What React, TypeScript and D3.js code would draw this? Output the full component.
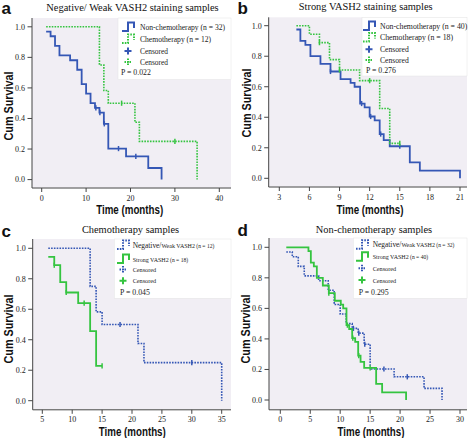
import React from "react";
import * as d3 from "d3";

// ---------- data ----------
// Negative/Weak VASH2, non-chemotherapy (n = 32)
const negNonTimes = [1, 2, 3, 4, 6.4, 8, 9, 10, 11, 12, 13, 14, 15, 19, 24, 27];
const negNonSurv = [0.969, 0.938, 0.875, 0.813, 0.781, 0.719, 0.625, 0.563, 0.5, 0.469, 0.438, 0.365, 0.203, 0.152, 0.076, 0];
const negNonCensor = [12.2, 13.1, 14.1, 17.3, 21.2];
// Negative/Weak VASH2, chemotherapy (n = 12)
const negChemoTimes = [13, 14, 15, 21, 22, 35];
const negChemoSurv = [0.75, 0.583, 0.5, 0.375, 0.25, 0];
const negChemoCensor = [18, 30];
// Strong VASH2, non-chemotherapy (n = 40)
const strNonTimes = [4.7, 5.1, 5.6, 6.1, 7.1, 8.1, 9.1, 10.1, 10.5, 11.05, 11.5, 12, 12.5, 13, 13.4, 14, 16, 17, 21];
const strNonSurv = [0.975, 0.9, 0.875, 0.8, 0.75, 0.7, 0.65, 0.625, 0.6, 0.49, 0.465, 0.405, 0.38, 0.29, 0.25, 0.21, 0.105, 0.05, 0];
const strNonCensor = [8.1, 11.2, 12.1, 13.1, 15];
// Strong VASH2, chemotherapy (n = 18)
const strChemoTimes = [6, 7, 8, 9, 11, 13, 14];
const strChemoSurv = [0.944, 0.889, 0.778, 0.71, 0.64, 0.457, 0.229];
const strChemoCensor = [7, 9, 12, 15];

const yTicks = [0, 0.2, 0.4, 0.6, 0.8, 1.0];
const xTicksA = [0, 10, 20, 30, 40];
const xTicksB = [3, 6, 9, 12, 15, 18, 21];
const xTicksC = [5, 10, 15, 20, 25, 30, 35];
const xTicksD = [0, 5, 10, 15, 20, 25, 30];

const titles = [
  "Negative/ Weak VASH2 staining samples",
  "Strong VASH2 staining samples",
  "Chemotherapy samples",
  "Non-chemotherapy samples",
];
const pValues = ["P = 0.022", "P = 0.276", "P = 0.045", "P = 0.295"];

// ---------- styles ----------
const BLUE = "#3557b5";
const GREEN = "#35c440";
const BG = "#f1eef4";
const SERIF = "'Liberation Serif', 'Times New Roman', serif";
const SANS = "'Liberation Sans', Arial, sans-serif";
const DOT = "1.6,1.2";

type Series = {
  times: number[];
  surv: number[];
  censor: number[];
  color: string;
  dotted: boolean;
};

function survAt(s: Series, t: number) {
  let v = 1;
  for (let i = 0; i < s.times.length; i++) if (t >= s.times[i] - 1e-9) v = s.surv[i];
  return v;
}

function kmPoints(s: Series, start: number): [number, number][] {
  const pts: [number, number][] = [];
  if (start < s.times[0]) pts.push([start, 1]);
  s.times.forEach((t, i) => pts.push([t, s.surv[i]]));
  const lastC = s.censor.length ? Math.max(...s.censor) : -Infinity;
  const lastT = s.times[s.times.length - 1];
  if (lastC > lastT) pts.push([lastC, s.surv[s.surv.length - 1]]);
  return pts;
}

type LegendRow = { kind: "step" | "cross"; color: string; dotted: boolean; parts: { text: string; size: number }[] };

type PanelCfg = {
  ox: number;
  oy: number;
  letter: string;
  title: string;
  titleX: number;
  titleY: number;
  letterY: number;
  xDomain: [number, number];
  xRange: [number, number];
  yRange: [number, number];
  xTicks: number[];
  bg: { x0: number; x1: number; y0: number; y1: number };
  start: number;
  series: Series[];
  legend: { x0: number; x1: number; y0: number; y1: number; iconX: number; textX: number; rows: number[]; pX: number };
  legendRows: LegendRow[];
  p: string;
  yLab: { x: number; y: number };
  xLab: { x: number; y: number };
  xTickY: number;
};

const panels: PanelCfg[] = [
  {
    ox: 0, oy: 0, letter: "a", title: titles[0], titleX: 132.5, titleY: 10.5, letterY: 14,
    xDomain: [0, 40], xRange: [41.7, 219.3], yRange: [179.6, 26.8], xTicks: xTicksA,
    bg: { x0: 32, x1: 231, y0: 18, y1: 187.5 }, start: 1,
    series: [
      { times: negNonTimes, surv: negNonSurv, censor: negNonCensor, color: BLUE, dotted: false },
      { times: negChemoTimes, surv: negChemoSurv, censor: negChemoCensor, color: GREEN, dotted: true },
    ],
    legend: { x0: 118, x1: 231, y0: 18, y1: 79.5, iconX: 122, textX: 140, rows: [27, 39, 51, 62, 72], pX: 121 },
    legendRows: [
      { kind: "step", color: BLUE, dotted: false, parts: [{ text: "Non-chemotherapy (n = 32)", size: 7.6 }] },
      { kind: "step", color: GREEN, dotted: true, parts: [{ text: "Chemotherapy  (n = 12)", size: 7.6 }] },
      { kind: "cross", color: BLUE, dotted: false, parts: [{ text: "Censored", size: 7.4 }] },
      { kind: "cross", color: GREEN, dotted: true, parts: [{ text: "Censored", size: 7.4 }] },
    ],
    p: pValues[0], yLab: { x: 13, y: 106 }, xLab: { x: 129.7, y: 214 }, xTickY: 201,
  },
  {
    ox: 236, oy: 0, letter: "b", title: titles[1], titleX: 129.7, titleY: 9.5, letterY: 14,
    xDomain: [3, 21], xRange: [43.3, 224], yRange: [178.3, 25.7], xTicks: xTicksB,
    bg: { x0: 32.7, x1: 231, y0: 17.3, y1: 186.5 }, start: 4.7,
    series: [
      { times: strNonTimes, surv: strNonSurv, censor: strNonCensor, color: BLUE, dotted: false },
      { times: strChemoTimes, surv: strChemoSurv, censor: strChemoCensor, color: GREEN, dotted: true },
    ],
    legend: { x0: 126, x1: 231, y0: 17.3, y1: 76, iconX: 127, textX: 144, rows: [26, 37.5, 49.3, 60, 70.5], pX: 130 },
    legendRows: [
      { kind: "step", color: BLUE, dotted: false, parts: [{ text: "Non-chemotherapy (n = 40)", size: 7.8 }] },
      { kind: "step", color: GREEN, dotted: true, parts: [{ text: "Chemotherapy (n = 18)", size: 7.8 }] },
      { kind: "cross", color: BLUE, dotted: false, parts: [{ text: "Censored", size: 7.6 }] },
      { kind: "cross", color: GREEN, dotted: true, parts: [{ text: "Censored", size: 7.6 }] },
    ],
    p: pValues[1], yLab: { x: 15, y: 103 }, xLab: { x: 134, y: 213.5 }, xTickY: 199.5,
  },
  {
    ox: 0, oy: 219, letter: "c", title: titles[2], titleX: 130.5, titleY: 13.5, letterY: 18.3,
    xDomain: [5, 35], xRange: [42.3, 221.7], yRange: [181.7, 29.3], xTicks: xTicksC,
    bg: { x0: 32.7, x1: 231, y0: 20, y1: 190.3 }, start: 6,
    series: [
      { times: negChemoTimes, surv: negChemoSurv, censor: negChemoCensor, color: BLUE, dotted: true },
      { times: strChemoTimes, surv: strChemoSurv, censor: strChemoCensor, color: GREEN, dotted: false },
    ],
    legend: { x0: 114.3, x1: 231, y0: 20, y1: 79.3, iconX: 117, textX: 132.7, rows: [26, 40, 50.5, 61.7, 72.7], pX: 120 },
    legendRows: [
      { kind: "step", color: BLUE, dotted: true, parts: [{ text: "Negative/", size: 7.4 }, { text: "Weak VASH2", size: 6 }, { text: " (n = 12)", size: 5.6 }] },
      { kind: "step", color: GREEN, dotted: false, parts: [{ text: "Strong VASH2", size: 6 }, { text: " (n = 18)", size: 5.6 }] },
      { kind: "cross", color: BLUE, dotted: true, parts: [{ text: "Censored", size: 6.2 }] },
      { kind: "cross", color: GREEN, dotted: false, parts: [{ text: "Censored", size: 6.2 }] },
    ],
    p: pValues[2], yLab: { x: 13.3, y: 110 }, xLab: { x: 132.3, y: 217 }, xTickY: 203,
  },
  {
    ox: 236, oy: 219, letter: "d", title: titles[3], titleX: 138, titleY: 13.5, letterY: 17.3,
    xDomain: [0, 30], xRange: [44.3, 224], yRange: [181, 28.3], xTicks: xTicksD,
    bg: { x0: 33, x1: 231, y0: 19, y1: 190.3 }, start: 1,
    series: [
      { times: negNonTimes, surv: negNonSurv, censor: negNonCensor, color: BLUE, dotted: true },
      { times: strNonTimes, surv: strNonSurv, censor: strNonCensor, color: GREEN, dotted: false },
    ],
    legend: { x0: 117.3, x1: 231, y0: 19, y1: 79.3, iconX: 120, textX: 136.7, rows: [25.7, 37.7, 49.3, 61, 72.7], pX: 122.7 },
    legendRows: [
      { kind: "step", color: BLUE, dotted: true, parts: [{ text: "Negative/", size: 7.4 }, { text: "Weak VASH2", size: 6 }, { text: "  (n = 32)", size: 5.6 }] },
      { kind: "step", color: GREEN, dotted: false, parts: [{ text: "Strong VASH2", size: 6 }, { text: " (n = 40)", size: 5.6 }] },
      { kind: "cross", color: BLUE, dotted: true, parts: [{ text: "Censored", size: 6.2 }] },
      { kind: "cross", color: GREEN, dotted: false, parts: [{ text: "Censored", size: 6.2 }] },
    ],
    p: pValues[3], yLab: { x: 14, y: 110 }, xLab: { x: 135, y: 217 }, xTickY: 203,
  },
];

function Panel({ cfg }: { cfg: PanelCfg }) {
  const x = d3.scaleLinear().domain(cfg.xDomain).range(cfg.xRange);
  const y = d3.scaleLinear().domain([0, 1]).range(cfg.yRange);
  const line = d3
    .line<[number, number]>()
    .x((d) => x(d[0]))
    .y((d) => y(d[1]))
    .curve(d3.curveStepAfter);
  const { bg, legend } = cfg;
  const axisY = bg.y1 + 0.5;
  return (
    <g transform={`translate(${cfg.ox},${cfg.oy})`}>
      <rect x={bg.x0} y={bg.y0} width={bg.x1 - bg.x0} height={bg.y1 - bg.y0} fill={BG} />
      {/* axes */}
      <line x1={bg.x0} x2={bg.x0} y1={bg.y0} y2={axisY} stroke="#444" strokeWidth={1} />
      <line x1={bg.x0} x2={bg.x1} y1={axisY} y2={axisY} stroke="#444" strokeWidth={1} />
      {yTicks.map((t) => (
        <g key={"y" + t}>
          <line x1={bg.x0 - 4.5} x2={bg.x0} y1={y(t)} y2={y(t)} stroke="#444" strokeWidth={1} />
          <text x={bg.x0 - 7} y={y(t) + 2.8} textAnchor="end" fontFamily={SERIF} fontSize={8} fill="#222">
            {d3.format(".1f")(t)}
          </text>
        </g>
      ))}
      {cfg.xTicks.map((t) => (
        <g key={"x" + t}>
          <line x1={x(t)} x2={x(t)} y1={axisY} y2={axisY + 4} stroke="#444" strokeWidth={1} />
          <text x={x(t)} y={cfg.xTickY} textAnchor="middle" fontFamily={SERIF} fontSize={8} fill="#222">
            {t}
          </text>
        </g>
      ))}
      {/* legend */}
      <rect x={legend.x0} y={legend.y0} width={legend.x1 - legend.x0} height={legend.y1 - legend.y0} fill="#fff" stroke="#e4e4e4" strokeWidth={0.5} />
      {cfg.legendRows.map((r, i) => {
        const cy = legend.rows[i];
        const ix = legend.iconX;
        const icon =
          r.kind === "step" ? (
            <path
              d={`M${ix},${cy + 4}H${ix + 6}V${cy - 4.5}H${ix + 12}V${cy + 1}`}
              fill="none"
              stroke={r.color}
              strokeWidth={2}
              strokeDasharray={r.dotted ? DOT : undefined}
            />
          ) : (
            <path
              d={`M${ix + 2.5},${cy}H${ix + 9.5}M${ix + 6},${cy - 3.5}V${cy + 3.5}`}
              fill="none"
              stroke={r.color}
              strokeWidth={2}
              strokeDasharray={r.dotted ? "1.5,1" : undefined}
            />
          );
        return (
          <g key={"l" + i}>
            {icon}
            <text x={legend.textX} y={cy + 2.6} fontFamily={SERIF} fill="#222">
              {r.parts.map((p, j) => (
                <tspan key={j} fontSize={p.size}>
                  {p.text}
                </tspan>
              ))}
            </text>
          </g>
        );
      })}
      <text x={legend.pX} y={legend.rows[4] + 2.8} fontFamily={SERIF} fontSize={7.8} fill="#222">
        {cfg.p}
      </text>
      {/* curves */}
      {cfg.series.map((s, i) => (
        <g key={"s" + i}>
          <path
            d={line(kmPoints(s, cfg.start)) || ""}
            fill="none"
            stroke={s.color}
            strokeWidth={s.dotted ? 1.6 : 1.8}
            strokeDasharray={s.dotted ? DOT : undefined}
          />
          {s.censor.map((c, j) => (
            <line
              key={j}
              x1={x(c)}
              x2={x(c)}
              y1={y(survAt(s, c)) - 2.6}
              y2={y(survAt(s, c)) + 2.6}
              stroke={s.color}
              strokeWidth={1.5}
            />
          ))}
        </g>
      ))}
      {/* titles and labels */}
      <text x={cfg.titleX} y={cfg.titleY} textAnchor="middle" fontFamily={SERIF} fontSize={10.4} fill="#111">
        {cfg.title}
      </text>
      <text x={1.5} y={cfg.letterY} fontFamily={SANS} fontWeight="bold" fontSize={17} fill="#111">
        {cfg.letter}
      </text>
      <text
        transform={`translate(${cfg.yLab.x},${cfg.yLab.y}) rotate(-90)`}
        textAnchor="middle"
        fontFamily={SANS}
        fontWeight="bold"
        fontSize={12.5}
        textLength={69}
        lengthAdjust="spacingAndGlyphs"
        fill="#111"
      >
        Cum Survival
      </text>
      <text
        x={cfg.xLab.x}
        y={cfg.xLab.y}
        textAnchor="middle"
        fontFamily={SANS}
        fontWeight="bold"
        fontSize={12}
        textLength={67}
        lengthAdjust="spacingAndGlyphs"
        fill="#111"
      >
        Time (months)
      </text>
    </g>
  );
}

export default function App() {
  return (
    <svg width={472} height={438} style={{ position: "absolute", left: 0, top: 0, background: "#fff" }}>
      {panels.map((p) => (
        <Panel key={p.letter} cfg={p} />
      ))}
    </svg>
  );
}
